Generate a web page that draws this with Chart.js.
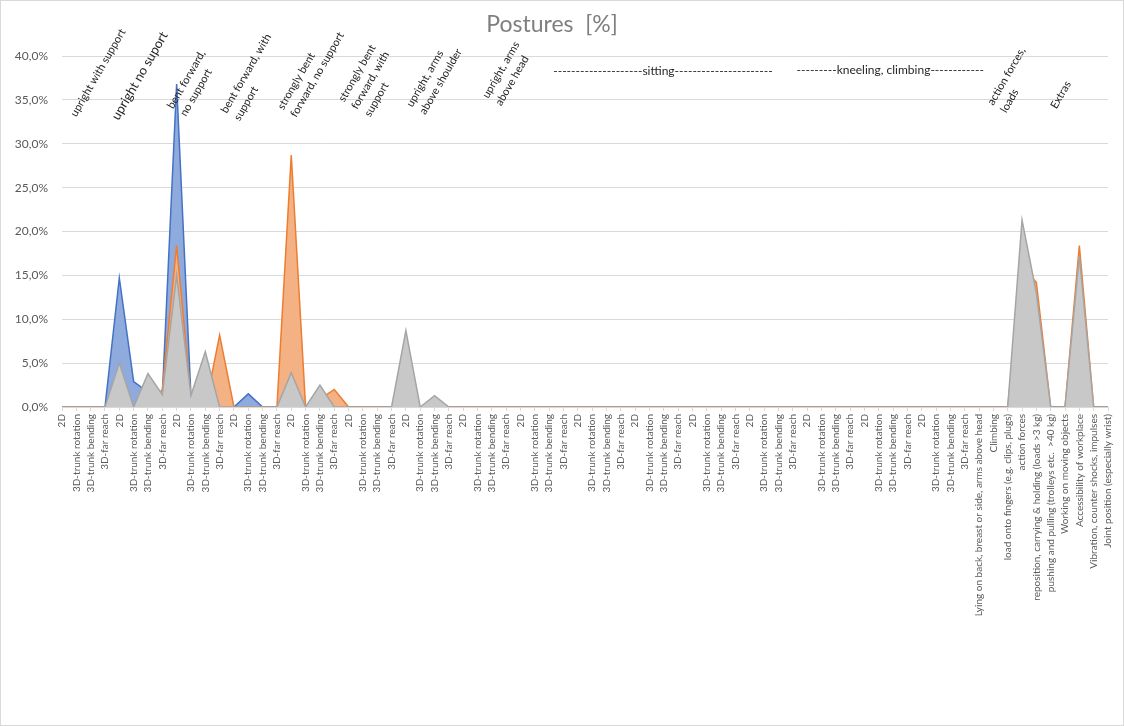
<!DOCTYPE html>
<html>
<head>
<meta charset="utf-8">
<title>Postures [%]</title>
<script src="https://cdn.jsdelivr.net/npm/chart.js@4.4.1/dist/chart.umd.min.js"></script>
<style>
  html, body { margin: 0; padding: 0; background: #fff; }
  #wrap { width: 1124px; height: 726px; box-sizing: border-box; border: 1px solid #d9d9d9; }
  #box { position: relative; width: 1122px; height: 724px; }
</style>
</head>
<body>
<div id="wrap"><div id="box"><canvas id="postures"></canvas></div></div>
<script>
// categories: 16 posture groups x 4 variants, then the single items
const categories = [
  "2D", "3D-trunk rotation", "3D-trunk bending", "3D-far reach",
  "2D", "3D-trunk rotation", "3D-trunk bending", "3D-far reach",
  "2D", "3D-trunk rotation", "3D-trunk bending", "3D-far reach",
  "2D", "3D-trunk rotation", "3D-trunk bending", "3D-far reach",
  "2D", "3D-trunk rotation", "3D-trunk bending", "3D-far reach",
  "2D", "3D-trunk rotation", "3D-trunk bending", "3D-far reach",
  "2D", "3D-trunk rotation", "3D-trunk bending", "3D-far reach",
  "2D", "3D-trunk rotation", "3D-trunk bending", "3D-far reach",
  "2D", "3D-trunk rotation", "3D-trunk bending", "3D-far reach",
  "2D", "3D-trunk rotation", "3D-trunk bending", "3D-far reach",
  "2D", "3D-trunk rotation", "3D-trunk bending", "3D-far reach",
  "2D", "3D-trunk rotation", "3D-trunk bending", "3D-far reach",
  "2D", "3D-trunk rotation", "3D-trunk bending", "3D-far reach",
  "2D", "3D-trunk rotation", "3D-trunk bending", "3D-far reach",
  "2D", "3D-trunk rotation", "3D-trunk bending", "3D-far reach",
  "2D", "3D-trunk rotation", "3D-trunk bending", "3D-far reach",
  "Lying on back, breast or side, arms above head",
  "Climbing",
  "load onto fingers (e.g. clips, plugs)",
  "action forces",
  "reposition, carrying & holding (loads >3 kg)",
  "pushing and pulling (trolleys etc.  >40 kg)",
  "Working on moving objects",
  "Accessibility of workplace",
  "Vibration, counter shocks, impulses",
  "Joint position (especially wrist)"
];

// values in percent
const seriesBlue = [
  0, 0, 0, 0, 14.7, 2.9, 1.7, 1.3,
  36.8, 1.2, 0, 0, 0, 1.5, 0, 0,
  0, 0, 0, 0, 0, 0, 0, 0,
  0, 0, 0, 0, 0, 0, 0, 0,
  0, 0, 0, 0, 0, 0, 0, 0,
  0, 0, 0, 0, 0, 0, 0, 0,
  0, 0, 0, 0, 0, 0, 0, 0,
  0, 0, 0, 0, 0, 0, 0, 0,
  0, 0, 0, 0, 0, 0, 0, 0, 0, 0
];
const seriesOrange = [
  0, 0, 0, 0, 0, 0, 0, 2.0,
  18.4, 1.0, 0, 8.2, 0, 0, 0, 0,
  28.7, 0, 0.9, 2.0, 0, 0, 0, 0,
  0, 0, 0, 0, 0, 0, 0, 0,
  0, 0, 0, 0, 0, 0, 0, 0,
  0, 0, 0, 0, 0, 0, 0, 0,
  0, 0, 0, 0, 0, 0, 0, 0,
  0, 0, 0, 0, 0, 0, 0, 0,
  0, 0, 0, 16.0, 14.2, 0, 0, 18.4, 0, 0
];
const seriesGray = [
  0, 0, 0, 0, 5.0, 0, 3.8, 1.4,
  15.0, 1.3, 6.3, 0, 0, 0, 0, 0,
  3.9, 0, 2.5, 0, 0, 0, 0, 0,
  8.7, 0, 1.3, 0, 0, 0, 0, 0,
  0, 0, 0, 0, 0, 0, 0, 0,
  0, 0, 0, 0, 0, 0, 0, 0,
  0, 0, 0, 0, 0, 0, 0, 0,
  0, 0, 0, 0, 0, 0, 0, 0,
  0, 0, 0, 21.3, 13.0, 0, 0, 17.2, 0, 0
];

const yTicks = [0, 5, 10, 15, 20, 25, 30, 35, 40];

// group captions written above the plot
const groupNotes = [
  ["upright with support"],
  ["upright no suport"],
  ["bent forward,", "no support"],
  ["bent forward, with", "support"],
  ["strongly bent", "forward, no support"],
  ["strongly bent", "forward, with", "support"],
  ["upright, arms", "above shoulder"],
  ["upright, arms", "above head"],
  ["--------------------sitting----------------------"],
  ["---------kneeling, climbing------------"],
  ["action forces,", "loads"],
  ["Extras"]
];
// where each caption sits: category index, axis value, font size, rotated or not
const notePlacement = [
  { at: 1.0, v: 33.0, size: 11, rot: true },
  { at: 3.95, v: 32.6, size: 13, rot: true },
  { at: 7.75, v: 33.9, size: 11, rot: true },
  { at: 11.5, v: 33.4, size: 11, rot: true },
  { at: 15.45, v: 33.8, size: 11, rot: true },
  { at: 19.7, v: 34.7, size: 11, rot: true },
  { at: 24.45, v: 34.1, size: 11, rot: true },
  { at: 29.75, v: 35.1, size: 11, rot: true },
  { at: 41.94, v: 38.3, size: 12, rot: false },
  { at: 57.8, v: 38.4, size: 12, rot: false },
  { at: 65.0, v: 34.3, size: 11, rot: true },
  { at: 69.4, v: 33.9, size: 11, rot: true }
];

const FONT = "Lato, 'Open Sans', sans-serif";

const captions = {
  id: "captions",
  afterDraw(chart) {
    const ctx = chart.ctx;
    const xs = chart.scales.x, ys = chart.scales.y;
    ctx.save();
    ctx.fillStyle = "#7f7f7f";
    ctx.font = "23px " + FONT;
    ctx.textAlign = "center";
    ctx.textBaseline = "middle";
    ctx.fillText("Postures  [%]", 551, 24);

    ctx.fillStyle = "#262626";
    groupNotes.forEach((lines, i) => {
      const p = notePlacement[i];
      const x = xs.getPixelForValue(p.at);
      const y = ys.getPixelForValue(p.v);
      ctx.save();
      ctx.font = p.size + "px " + FONT;
      ctx.translate(x, y);
      if (p.rot) {
        ctx.rotate(-60 * Math.PI / 180);
        ctx.textAlign = "left";
        ctx.textBaseline = "alphabetic";
      } else {
        ctx.textAlign = "center";
        ctx.textBaseline = "middle";
      }
      lines.forEach((t, k) => ctx.fillText(t, 0, k * 15));
      ctx.restore();
    });
    ctx.restore();
  }
};

new Chart(document.getElementById("postures"), {
  type: "line",
  data: {
    labels: categories,
    datasets: [
      {
        label: "Series 1",
        data: seriesBlue,
        borderColor: "#4472c4",
        backgroundColor: "#8faadc",
        fill: "origin",
        order: 3
      },
      {
        label: "Series 2",
        data: seriesOrange,
        borderColor: "#ed7d31",
        backgroundColor: "#f4b183",
        fill: "origin",
        order: 2
      },
      {
        label: "Series 3",
        data: seriesGray,
        borderColor: "#a5a5a5",
        backgroundColor: "#c8c8c8",
        fill: "origin",
        order: 1
      }
    ]
  },
  options: {
    responsive: true,
    maintainAspectRatio: false,
    animation: false,
    layout: { padding: { top: 55, right: 10, left: 0, bottom: 0 } },
    elements: {
      line: { tension: 0, borderWidth: 1.5 },
      point: { radius: 0, hoverRadius: 0 }
    },
    plugins: {
      legend: { display: false },
      tooltip: { enabled: false },
      title: { display: false }
    },
    scales: {
      x: {
        offset: false,
        afterFit: (s) => { s.height = 318; },
        grid: { display: true, drawOnChartArea: false, drawTicks: true, tickLength: 4, color: "#d9d9d9" },
        border: { display: true, color: "#d9d9d9" },
        ticks: {
          autoSkip: false,
          minRotation: 90,
          maxRotation: 90,
          padding: 3,
          color: "#595959",
          font: { family: FONT, size: 10 }
        }
      },
      y: {
        min: 0,
        max: 40,
        afterFit: (s) => { s.width = 61; },
        afterBuildTicks: (s) => { s.ticks = yTicks.map(v => ({ value: v })); },
        grid: { color: "#d9d9d9", drawTicks: false },
        border: { display: false },
        ticks: {
          padding: 14,
          color: "#595959",
          font: { family: FONT, size: 12 },
          callback: (v) => v.toFixed(1).replace(".", ",") + "%"
        }
      }
    }
  },
  plugins: [captions]
});
</script>
</body>
</html>
